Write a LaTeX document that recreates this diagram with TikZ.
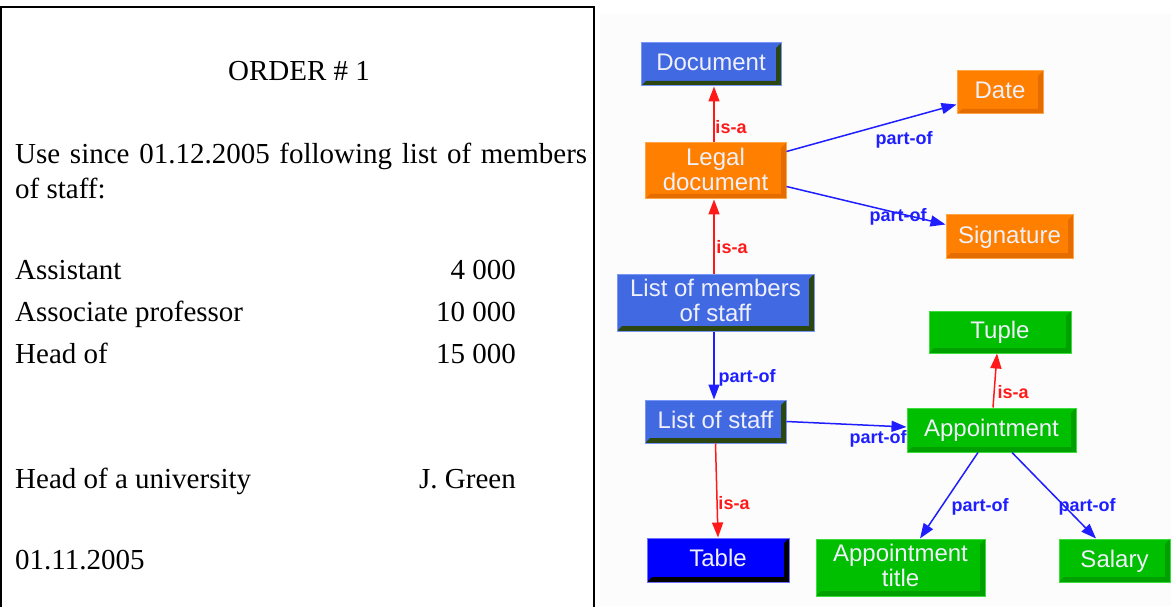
\documentclass[tikz,border=0pt]{standalone}
\usepackage{fontspec}
\setmainfont{Liberation Serif}
\newfontfamily\boxfont{Liberation Sans}
\usetikzlibrary{arrows.meta}
\definecolor{boxblue}{RGB}{65,105,225}
\definecolor{boxbluerim}{RGB}{120,150,245}
\definecolor{boxblueshade}{RGB}{44,70,18}
\definecolor{boxorange}{RGB}{255,128,0}
\definecolor{boxorangerim}{RGB}{255,165,70}
\definecolor{boxorangeshade}{RGB}{228,108,0}
\definecolor{boxgreen}{RGB}{0,190,0}
\definecolor{boxgreenrim}{RGB}{60,220,60}
\definecolor{boxgreenshade}{RGB}{0,160,0}
\definecolor{tableblue}{RGB}{0,0,255}
\definecolor{tablerim}{RGB}{110,110,255}
\definecolor{boxtext}{RGB}{240,240,250}
\definecolor{isared}{RGB}{255,25,25}
\definecolor{partblue}{RGB}{30,30,255}
\definecolor{panel}{RGB}{252,252,252}
\begin{document}
\begin{tikzpicture}[x=1pt,y=-1pt,
  concept/.style={rectangle, inner sep=0pt, align=center, text depth=4pt,
    font=\boxfont\fontsize{24}{25}\selectfont, text=boxtext, line width=1pt},
  bevel/.style={path picture={
    \fill[#1] (path picture bounding box.south west)
      -- (path picture bounding box.south east)
      -- (path picture bounding box.north east)
      -- ([shift={(-5pt,-5pt)}]path picture bounding box.north east)
      -- ([shift={(-5pt,5pt)}]path picture bounding box.south east)
      -- ([shift={(5pt,5pt)}]path picture bounding box.south west) -- cycle;}},
  bluebox/.style={concept, fill=boxblue, draw=boxbluerim, bevel=boxblueshade},
  orangebox/.style={concept, fill=boxorange, draw=boxorangerim, bevel=boxorangeshade},
  greenbox/.style={concept, fill=boxgreen, draw=boxgreenrim, bevel=boxgreenshade},
  tablebox/.style={concept, fill=tableblue, draw=tablerim, bevel=black},
  rel/.style={inner sep=0pt, font=\boxfont\bfseries\fontsize{18}{18}\selectfont},
  isalabel/.style={rel, text=isared},
  partlabel/.style={rel, text=partblue},
  isa/.style={draw=isared, line width=1.5pt, -{Triangle[length=15pt,width=11pt]}},
  partof/.style={draw=partblue, line width=1.5pt, -{Triangle[length=15pt,width=11pt]}},
  doc/.style={inner sep=0pt, font=\fontsize{29}{34}\selectfont}
]
\useasboundingbox (0,0) rectangle (1171,607);

% light panel behind the concept graph
\fill[panel] (600,14) rectangle (1171,606);

% ---- the order document ----
\draw[line width=2pt] (1,610) -- (1,7) -- (594,7) -- (594,610);
\node[doc, anchor=base] (title) at (299,81) {ORDER \# 1};
\node[doc, anchor=base west] (intro) at (15,164)
  {\makebox[572pt][s]{Use since 01.12.2005 following list of members}};
\node[doc, anchor=base west] (intro2) at (15,199) {of staff:};
\node[doc, anchor=base west] (post1) at (15,279) {Assistant};
\node[doc, anchor=base east] (sum1) at (516,279) {4 000};
\node[doc, anchor=base west] (post2) at (15,321) {Associate professor};
\node[doc, anchor=base east] (sum2) at (516,321) {10 000};
\node[doc, anchor=base west] (post3) at (15,363) {Head of};
\node[doc, anchor=base east] (sum3) at (516,363) {15 000};
\node[doc, anchor=base west] (signer) at (15,488) {Head of a university};
\node[doc, anchor=base east] (signame) at (516,488) {J. Green};
\node[doc, anchor=base west] (issued) at (15,569) {01.11.2005};

% ---- concepts ----
\node[bluebox, minimum width=140pt, minimum height=43pt] (document) at (711,64.5) {Document};
\node[orangebox, minimum width=141pt, minimum height=56pt] (legal) at (715.5,171) {Legal\\document};
\node[orangebox, minimum width=86pt, minimum height=43pt] (date) at (1000,92.5) {Date};
\node[orangebox, minimum width=127pt, minimum height=43pt] (signature) at (1009.5,236.5) {Signature};
\node[bluebox, minimum width=197pt, minimum height=57pt] (members) at (715.5,302.5) {List of members\\of staff};
\node[bluebox, minimum width=141pt, minimum height=43pt] (staff) at (715.5,421.5) {List of staff};
\node[greenbox, minimum width=142pt, minimum height=42pt] (tuple) at (1000,332) {Tuple};
\node[greenbox, minimum width=169pt, minimum height=44pt] (appointment) at (991.5,430) {Appointment};
\node[greenbox, minimum width=169pt, minimum height=57pt] (apptitle) at (900.5,567.5) {Appointment\\title};
\node[greenbox, minimum width=111pt, minimum height=43pt] (salary) at (1114.5,560.5) {Salary};
\node[tablebox, minimum width=142pt, minimum height=44pt] (table) at (718,560) {Table};

% ---- relations ----
\draw[isa] ([xshift=-1.5pt]legal.north) -- ([xshift=3pt]document.south);
\draw[isa] ([xshift=-1.5pt]members.north) -- ([xshift=-1.5pt]legal.south);
\draw[partof] ([yshift=-9pt]legal.north east) -- ([yshift=10pt]date.south west);
\draw[partof] ([yshift=13pt]legal.south east) -- ([yshift=-10pt]signature.north west);
\draw[partof] ([xshift=-1.5pt]members.south) -- ([xshift=-1.5pt]staff.north);
\draw[partof] (staff.east) -- ([yshift=3pt]appointment.west);
\draw[isa] ([xshift=1.5pt]appointment.north) -- ([xshift=-3pt]tuple.south);
\draw[partof] ([xshift=-13.5pt]appointment.south) -- ([xshift=19.5pt]apptitle.north);
\draw[partof] ([xshift=20.5pt]appointment.south) -- ([xshift=-18.5pt]salary.north);
\draw[isa] (staff.south) -- (table.north);

% ---- relation labels ----
\node[isalabel] (l1) at (731,127) {is-a};
\node[isalabel] (l2) at (732,247) {is-a};
\node[partlabel] (l3) at (904,140) {part-of};
\node[partlabel] (l4) at (898,217) {part-of};
\node[partlabel] (l5) at (747,378) {part-of};
\node[partlabel] (l6) at (878,439) {part-of};
\node[isalabel] (l7) at (1013,392) {is-a};
\node[partlabel] (l8) at (980,507) {part-of};
\node[partlabel] (l9) at (1087,507) {part-of};
\node[isalabel] (l10) at (734,503) {is-a};
\end{tikzpicture}
\end{document}
